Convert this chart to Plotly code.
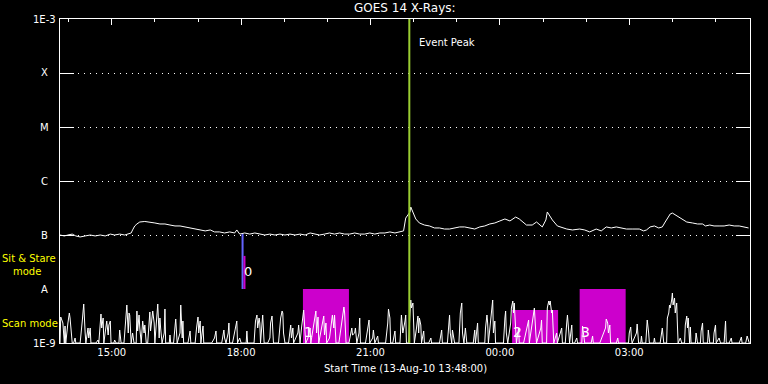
import numpy as np
import pandas as pd
import plotly.graph_objects as go

START = pd.Timestamp("2010-08-13 13:48:00")
END = pd.Timestamp("2010-08-14 05:48:00")

# GOES 14 long-channel flux (minutes after start, flux in 1e-7 W/m^2)
goes_min = [0, 6, 11, 17, 22, 28, 35, 42, 49, 56, 63, 70, 76, 83, 90, 95, 99, 101, 104, 107,
            111, 118, 125, 132, 139, 146, 153, 160, 167, 174, 181, 188, 195, 202, 209, 215, 222, 229, 236, 243,
            246, 250, 257, 264, 271, 278, 285, 292, 299, 306, 313, 320, 327, 334, 341, 348, 354, 361, 368, 375,
            382, 389, 396, 403, 410, 417, 424, 431, 438, 445, 452, 459, 466, 473, 478, 481, 484, 487, 488, 491,
            495, 500, 507, 514, 521, 528, 535, 542, 549, 556, 563, 570, 577, 584, 591, 598, 605, 612, 619, 626,
            634, 639, 649, 657, 663, 671, 676, 678, 685, 692, 699, 705, 713, 723, 730, 737, 746, 753, 760, 767,
            774, 781, 788, 796, 806, 812, 816, 821, 827, 833, 838, 842, 845, 849, 852, 856, 859, 865, 872, 880,
            887, 894, 898, 904, 910, 917, 924, 931, 938, 945, 952, 958]
goes_e7 = [1.00, 0.96, 1.00, 1.04, 0.96, 0.92, 0.96, 1.00, 0.96, 1.00, 0.96, 1.04, 1.00, 1.04, 1.00, 1.04, 1.09, 1.24, 1.47, 1.60,
           1.74, 1.78, 1.74, 1.67, 1.60, 1.60, 1.53, 1.47, 1.47, 1.41, 1.35, 1.29, 1.24, 1.19, 1.24, 1.14, 1.14, 1.09, 1.14, 1.09,
           1.24, 1.04, 1.09, 1.04, 1.09, 1.04, 1.00, 1.04, 1.00, 1.04, 1.00, 1.04, 1.00, 1.04, 1.00, 1.09, 1.04, 1.00, 1.04, 1.09,
           1.04, 1.09, 1.04, 1.04, 1.09, 1.04, 1.04, 1.09, 1.04, 1.09, 1.09, 1.14, 1.09, 1.14, 1.19, 2.06, 2.35, 2.67, 3.30, 2.67,
           1.98, 1.67, 1.53, 1.47, 1.35, 1.35, 1.29, 1.29, 1.35, 1.41, 1.41, 1.35, 1.29, 1.41, 1.47, 1.60, 1.67, 1.82, 1.98, 1.82,
           2.15, 1.98, 1.53, 1.53, 1.74, 1.41, 1.90, 2.67, 1.90, 1.47, 1.35, 1.29, 1.24, 1.29, 1.24, 1.14, 1.29, 1.19, 1.41, 1.35,
           1.41, 1.35, 1.29, 1.29, 1.29, 1.19, 1.24, 1.41, 1.47, 1.35, 1.41, 1.74, 2.06, 2.45, 2.55, 2.35, 2.25, 1.98, 1.74, 1.67,
           1.60, 1.60, 1.47, 1.53, 1.47, 1.47, 1.47, 1.53, 1.47, 1.47, 1.41, 1.35]

# Scan-mode signal (minutes after start, relative level 0..54 = 1E-9..A)
scan_min = [0, 1, 4, 6, 7, 8, 11, 13, 14, 17, 19, 21, 22,
            28, 31, 33, 35, 36, 39, 40, 42, 43, 50, 53, 54,
            57, 58, 60, 61, 65, 67, 68, 70, 71, 75, 76, 78,
            82, 83, 85, 89, 92, 93, 95, 96, 97, 99, 101, 103,
            106, 107, 108, 110, 111, 113, 115, 117, 118, 120,
            122, 124, 125, 126, 128, 129, 131, 132, 133, 136, 138, 139, 140, 142, 145, 146, 147,
            152, 153, 154, 158, 161, 163, 167, 168, 170, 171, 172,
            178, 181, 182, 188, 190, 192, 193, 195, 196, 199, 200,
            206, 211, 215, 217, 218, 225, 228, 229, 231, 234, 235, 236,
            240, 246, 247, 250, 252, 259, 260, 261, 270, 272, 274, 275, 277, 278, 279, 281, 282, 284,
            289, 292, 293, 295, 296, 297, 304, 307, 309, 310, 311, 313,
            318, 320, 321, 322, 324, 325, 331, 332, 334, 336, 339, 341, 342,
            345, 348, 349, 353, 356, 357, 359, 360, 364, 367, 368, 370, 371,
            375, 379, 381, 382, 384, 388, 392, 395, 396, 398, 402,
            406, 407, 410, 411, 413, 416, 417, 418, 425, 430, 431, 435, 436, 438, 442, 443,
            453, 456, 457, 459, 460, 463, 466, 467, 473, 475, 477, 480, 481, 482,
            485, 487, 488, 489, 491, 492, 493, 496, 498, 499, 500, 502, 503, 506, 507,
            513, 516, 517, 528, 531, 532, 539, 541, 542, 543, 545, 546, 549,
            555, 557, 559, 560, 562, 564, 566, 575, 577, 578, 581, 582,
            591, 592, 594, 595, 596, 600, 602, 603, 605, 606,
            617, 619, 620, 621, 623, 627, 628, 630, 631, 632, 634, 635, 638, 639,
            645, 649, 652, 653, 657, 660, 662, 663, 669, 670, 671,
            677, 678, 680, 681, 682, 684, 685, 687, 689, 691, 692,
            696, 698, 699, 703, 705, 706, 708, 709, 712, 713,
            716, 719, 720, 726, 727, 728, 730, 739, 741, 742, 751, 759, 760, 762, 763, 765, 766,
            774, 776, 777, 791, 792, 794, 795, 796, 802, 803, 805, 808, 809, 810,
            815, 816, 817, 819, 820, 826, 827, 828, 835, 837, 838, 840,
            844, 845, 847, 848, 849, 851, 852, 853, 855, 856, 858, 859, 860, 863, 865,
            869, 870, 872, 873, 874, 876, 877, 878, 884, 885, 887, 891, 892, 894, 895,
            901, 902, 904, 909, 910, 912, 913, 917, 919, 924, 926, 927, 931, 934, 935,
            945, 948, 949, 954, 956, 958, 959]
scan_val = [0, 26, 20, 0, 17, 0, 20, 30, 25, 0, 0, 5, 0,
            0, 22, 39, 10, 0, 15, 5, 15, 0, 0, 3, 0,
            29, 15, 25, 0, 22, 8, 18, 22, 0, 0, 3, 0,
            0, 13, 0, 0, 25, 38, 10, 30, 28, 0, 10, 0,
            0, 32, 12, 28, 15, 0, 22, 10, 18, 0,
            0, 20, 31, 12, 28, 32, 20, 0, 10, 39, 5, 25, 15, 0, 10, 34, 0,
            0, 8, 0, 0, 24, 0, 10, 38, 5, 22, 0,
            0, 12, 0, 0, 15, 26, 10, 22, 0, 17, 0,
            0, 0, 5, 12, 0, 0, 13, 5, 0, 10, 20, 0,
            0, 22, 0, 5, 0, 0, 12, 0, 0, 22, 28, 15, 25, 20, 0, 18, 28, 0,
            0, 5, 20, 27, 10, 0, 0, 25, 32, 30, 10, 0,
            0, 10, 18, 5, 15, 0, 10, 18, 0, 15, 33, 10, 0,
            5, 15, 0, 20, 32, 10, 26, 0, 15, 27, 8, 20, 0,
            5, 28, 15, 28, 0, 0, 20, 36, 30, 0, 0,
            15, 8, 10, 15, 0, 10, 25, 0, 0, 23, 0, 5, 13, 0, 7, 0,
            0, 20, 34, 25, 0, 0, 12, 0, 0, 28, 10, 22, 28, 0,
            0, 30, 43, 35, 40, 20, 0, 15, 27, 10, 25, 18, 0, 12, 0,
            0, 5, 0, 0, 13, 0, 0, 20, 28, 10, 0, 13, 0,
            0, 30, 40, 10, 0, 15, 0, 0, 13, 0, 20, 0,
            0, 15, 28, 20, 0, 25, 43, 10, 22, 0,
            0, 25, 32, 10, 0, 20, 35, 42, 30, 40, 15, 0, 15, 0,
            0, 15, 23, 0, 20, 35, 10, 0, 15, 23, 0,
            0, 35, 42, 38, 42, 30, 33, 0, 5, 10, 0,
            10, 15, 0, 0, 20, 28, 10, 0, 18, 0,
            0, 5, 0, 0, 17, 10, 0, 0, 7, 0, 0, 15, 24, 20, 10, 18, 0,
            0, 5, 0, 0, 10, 16, 5, 0, 10, 19, 0, 0, 7, 0,
            0, 15, 23, 10, 0, 0, 5, 0, 0, 10, 15, 0,
            0, 25, 30, 38, 35, 43, 50, 38, 45, 30, 40, 18, 0, 5, 0,
            0, 18, 27, 15, 25, 0, 16, 0, 0, 10, 0, 0, 12, 20, 0,
            0, 13, 0, 0, 10, 18, 0, 5, 0, 0, 22, 0, 0, 5, 0,
            0, 6, 0, 0, 7, 0, 0]

ytick_vals = [1e-3, 1e-4, 1e-5, 1e-6, 1e-7, 1e-8, 1e-9]
ytick_text = ["1E-3", "X", "M", "C", "B", "A", "1E-9"]

event_peak = "2010-08-13 21:54:00"
# sit & stare marker: time, top level of blue line (flux), top level of magenta line (flux)
sit_stare_blue = "2010-08-13 18:02:00"
sit_stare_blue_top = 1.04e-7
sit_stare_mag = "2010-08-13 18:04:40"
sit_stare_mag_top = 4.1e-8
# scan-mode blocks: start, end, height in scan units (54 = A level), label
scan_blocks = [("2010-08-13 19:26", "2010-08-13 20:30", 54, "1"),
               ("2010-08-14 00:17", "2010-08-14 01:21", 33, "2"),
               ("2010-08-14 01:51", "2010-08-14 02:55", 54, "3")]

FONT = "DejaVu Sans"
WHITE = "#ffffff"
YELLOW = "#ffff00"
MAGENTA = "#cc00cc"

goes_t = START + pd.to_timedelta(goes_min, unit="m")
scan_t = START + pd.to_timedelta(scan_min, unit="m")
goes_flux = np.array(goes_e7) * 1e-7

YMIN, YMAX = -9, -3


def flux_to_paper(f):
    return (np.log10(f) - YMIN) / (YMAX - YMIN)


fig = go.Figure()
fig.add_trace(go.Scatter(x=goes_t, y=goes_flux, mode="lines",
                         line=dict(color=WHITE, width=1), yaxis="y", showlegend=False))
fig.add_trace(go.Scatter(x=scan_t, y=scan_val, mode="lines",
                         line=dict(color=WHITE, width=1), yaxis="y2", showlegend=False))

shapes = []
for x0, x1, top, lab in scan_blocks:
    shapes.append(dict(type="rect", xref="x", yref="y2", x0=x0, x1=x1, y0=0, y1=top,
                       fillcolor=MAGENTA, line=dict(width=0), layer="below"))
shapes.append(dict(type="line", xref="x", yref="paper", x0=sit_stare_blue, x1=sit_stare_blue,
                   y0=flux_to_paper(1e-8), y1=flux_to_paper(sit_stare_blue_top),
                   line=dict(color="#6464ff", width=2), layer="above"))
shapes.append(dict(type="line", xref="x", yref="paper", x0=sit_stare_mag, x1=sit_stare_mag,
                   y0=flux_to_paper(1e-8), y1=flux_to_paper(sit_stare_mag_top),
                   line=dict(color=MAGENTA, width=2), layer="above"))
shapes.append(dict(type="line", xref="x", yref="paper", x0=event_peak, x1=event_peak,
                   y0=0, y1=1, line=dict(color="#9acd32", width=2), layer="above"))

ann = []
for v, t in zip(ytick_vals, ytick_text):
    if t.startswith("1E"):
        ann.append(dict(xref="paper", yref="paper", x=0, y=flux_to_paper(v), text=t, xanchor="right",
                        yanchor="middle", xshift=-2, showarrow=False,
                        font=dict(family=FONT, size=10, color=WHITE)))
    else:
        ann.append(dict(xref="paper", yref="paper", x=0, y=flux_to_paper(v), text=t, xanchor="center",
                        yanchor="middle", xshift=-16, showarrow=False,
                        font=dict(family=FONT, size=10, color=WHITE)))

ann.append(dict(xref="paper", yref="paper", x=0.5, y=1, yanchor="bottom", yshift=2,
                text="GOES 14 X-Rays:", showarrow=False, font=dict(family=FONT, size=12, color=WHITE)))
ann.append(dict(xref="paper", yref="paper", x=0.5, y=0, yanchor="top", yshift=-18,
                text="Start Time (13-Aug-10 13:48:00)", showarrow=False,
                font=dict(family=FONT, size=10, color=WHITE)))
ann.append(dict(xref="x", yref="paper", x=event_peak, y=1, xanchor="left", yanchor="top",
                xshift=8, yshift=-16, text="Event Peak", showarrow=False,
                font=dict(family=FONT, size=10, color=WHITE)))
ann.append(dict(xref="paper", yref="paper", x=0, y=0.262, xanchor="left", yanchor="middle",
                xshift=-60, text="Sit & Stare", showarrow=False,
                font=dict(family=FONT, size=10, color=YELLOW)))
ann.append(dict(xref="paper", yref="paper", x=0, y=0.222, xanchor="left", yanchor="middle",
                xshift=-49, text="mode", showarrow=False,
                font=dict(family=FONT, size=10, color=YELLOW)))
ann.append(dict(xref="paper", yref="paper", x=0, y=0.059, xanchor="left", yanchor="middle",
                xshift=-60, text="Scan mode", showarrow=False,
                font=dict(family=FONT, size=10, color=YELLOW)))
ann.append(dict(xref="x", yref="paper", x=sit_stare_blue, y=flux_to_paper(2.15e-8), xanchor="left",
                yanchor="middle", xshift=-1, text="0", showarrow=False,
                font=dict(family=FONT, size=13, color=WHITE)))
for x0, x1, top, lab in scan_blocks:
    ann.append(dict(xref="x", yref="y2", x=x0, y=11, xanchor="left", yanchor="middle",
                    xshift=-1, text=lab, showarrow=False,
                    font=dict(family=FONT, size=14, color=WHITE)))

fig.update_layout(
    width=768, height=384,
    margin=dict(l=60, r=18, t=19, b=41),
    paper_bgcolor="black", plot_bgcolor="black",
    font=dict(family=FONT, color=WHITE, size=10),
    shapes=shapes, annotations=ann,
    xaxis=dict(type="date", range=[START, END], showgrid=False, zeroline=False,
               showline=True, linecolor=WHITE, linewidth=1, mirror="ticks",
               ticks="inside", ticklen=6, tickcolor=WHITE, tickwidth=1,
               tick0="2010-08-13 15:00:00", dtick=3 * 3600000, tickformat="%H:%M",
               tickfont=dict(family=FONT, size=10, color=WHITE),
               minor=dict(ticks="inside", ticklen=3, tickcolor=WHITE,
                          tick0="2010-08-13 14:00:00", dtick=3600000, showgrid=False)),
    yaxis=dict(type="log", range=[YMIN, YMAX], domain=[0, 1], showline=True, linecolor=WHITE,
               linewidth=1, mirror="ticks", ticks="inside", ticklen=14, tickcolor=WHITE,
               tickvals=ytick_vals, showticklabels=False, showgrid=True, gridcolor=WHITE,
               griddash="1px,5px", gridwidth=1, zeroline=False),
    yaxis2=dict(domain=[0, 1 / 6], range=[0, 54], anchor="x", visible=False,
                showgrid=False, zeroline=False),
)

fig.write_html("out.html")
